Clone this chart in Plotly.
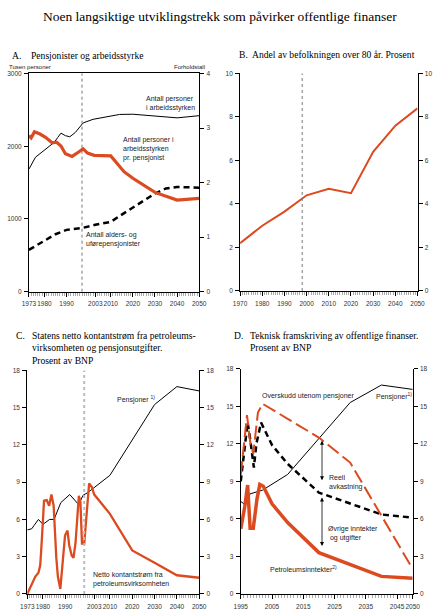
import plotly.graph_objects as go

RED = "#dc4a1f"

# A. Pensjonister og arbeidsstyrke
a_labor_years = [1973, 1975, 1976, 1978.5, 1981.5, 1984.5, 1986, 1987.5, 1989.5, 1991.5, 1994, 1996, 1997.5, 2002, 2009, 2014, 2020, 2030, 2040, 2050]
a_labor = [1685, 1785, 1850, 1910, 1985, 2055, 2120, 2180, 2145, 2130, 2190, 2270, 2320, 2370, 2415, 2437, 2440, 2410, 2390, 2420]
a_ratio_years = [1973, 1974, 1975.5, 1978, 1980.5, 1983.5, 1985.5, 1987.5, 1989.5, 1992.5, 1995.5, 1997.5, 1999.5, 2002.5, 2010, 2016, 2020, 2030, 2040, 2050]
a_ratio = [2.86, 2.82, 2.93, 2.89, 2.83, 2.73, 2.74, 2.67, 2.53, 2.48, 2.56, 2.62, 2.54, 2.50, 2.49, 2.2, 2.08, 1.82, 1.68, 1.71]
a_pens_years = [1973, 1980, 1985, 1990, 1997, 2003, 2010, 2015, 2020, 2025, 2030, 2035, 2040, 2050]
a_pens = [575, 700, 790, 850, 875, 920, 960, 1060, 1160, 1260, 1350, 1420, 1440, 1430]

# B. Andel av befolkningen over 80 år
b_years = [1970, 1980, 1990, 1998, 2000, 2010, 2020, 2030, 2040, 2050]
b_share = [2.2, 3.0, 3.65, 4.25, 4.4, 4.7, 4.5, 6.4, 7.6, 8.4]

# C. Netto kontantstrøm og pensjoner
c_pens_years = [1973, 1975, 1976, 1978, 1980, 1983, 1985, 1986, 1988, 1992, 1996, 1998, 2000, 2010, 2020, 2030, 2040, 2050]
c_pens = [5.15, 5.25, 5.5, 6.0, 5.6, 6.0, 6.0, 6.5, 7.35, 8.0, 7.2, 7.95, 8.15, 9.55, 12.35, 15.25, 16.7, 16.35]
c_oil_years = [1973, 1974.4, 1976.6, 1978, 1978.8, 1979.5, 1980.5, 1981.7, 1982.8, 1983.8, 1984.8, 1986, 1986.7, 1987.8,
               1988.9, 1989.9, 1991, 1991.8, 1992.9, 1993.7, 1994.6, 1996.1, 1996.8, 1997.5, 1998.5, 1999.7, 2000.7,
               2001.9, 2003, 2010, 2020, 2030, 2040, 2050]
c_oil = [0.0, 0.6, 1.4, 1.7, 2.3, 4.3, 7.5, 7.55, 7.1, 8.0, 7.1, 2.9, 1.4, 0.4,
         2.9, 4.7, 5.1, 3.9, 3.1, 2.9, 4.1, 7.9, 7.4, 4.05, 4.05, 7.1, 8.9,
         8.6, 8.0, 6.45, 3.5, 2.5, 1.5, 1.3]

# D. Teknisk framskriving
d_pens_years = [1995, 1996, 1998, 2000, 2002, 2010, 2020, 2030, 2040, 2050]
d_pens = [7.4, 7.2, 8.0, 8.15, 8.3, 9.55, 12.4, 15.3, 16.7, 16.35]
d_oil_years = [1995, 1996.3, 1997.2, 1998, 1999, 2000.2, 2001.1, 2002.2, 2005, 2010, 2020, 2030, 2040, 2050]
d_oil = [5.2, 7.0, 8.7, 5.25, 5.25, 7.6, 8.75, 8.6, 7.2, 5.7, 3.3, 2.35, 1.4, 1.25]
d_surplus_years = [1995, 1997, 1998, 1999, 2000.5, 2002, 2010, 2020, 2030, 2040, 2050]
d_surplus = [9.5, 14.3, 12.2, 11.2, 14.5, 15.2, 14.0, 12.5, 10.5, 6.3, 2.0]
d_excl_years = [1995, 1997.2, 1998, 1999.2, 2000, 2001.5, 2005, 2010, 2020, 2030, 2040, 2050]
d_excl = [9.0, 13.7, 12.4, 10.1, 12.0, 13.7, 11.9, 10.4, 8.1, 7.2, 6.35, 6.1]

a_ticks = [1973, 1980, 1990, 2003, 2010, 2020, 2030, 2040, 2050]
b_ticks = [1970, 1980, 1990, 2000, 2010, 2020, 2030, 2040, 2050]
d_ticks = [1995, 2005, 2015, 2025, 2035, 2045, 2050]

W, H = 440, 613
SANS = "Liberation Sans"
SERIF = "Liberation Serif"
tickfont = dict(family=SANS, size=6.5, color="#333")


def dx(a, b):
    return [a / W, b / W]


def dy(top, bottom):
    return [1 - bottom / H, 1 - top / H]


def xax(dom, anchor, rng, ticks, minor_rng, mirror=False):
    return dict(domain=dom, anchor=anchor, range=rng, tickvals=ticks, showgrid=False, zeroline=False,
                showline=True, linecolor="black", linewidth=1, mirror=mirror, ticks="outside", ticklen=4,
                tickcolor="black", tickfont=tickfont, tickangle=0, ticklabelstandoff=2,
                minor=dict(tickmode="array", tickvals=list(range(*minor_rng)), ticks="outside",
                           ticklen=3, tickcolor="#aaa"))


def yax(dom, anchor, rng, dtick, side="left", overlaying=None):
    d = dict(domain=dom, anchor=anchor, range=rng, dtick=dtick, tick0=0, showgrid=False, zeroline=False,
             showline=True, linecolor="black", linewidth=1, ticks="outside", ticklen=4, tickcolor="black",
             tickfont=tickfont, side=side, ticklabelstandoff=1)
    if overlaying:
        d["overlaying"] = overlaying
    return d


fig = go.Figure()

# A
fig.add_trace(go.Scatter(x=a_labor_years, y=a_labor, mode="lines", line=dict(color="black", width=1), xaxis="x", yaxis="y"))
fig.add_trace(go.Scatter(x=a_pens_years, y=a_pens, mode="lines", line=dict(color="black", width=2.5, dash="6px,4px"), xaxis="x", yaxis="y"))
fig.add_trace(go.Scatter(x=a_ratio_years, y=a_ratio, mode="lines", line=dict(color=RED, width=3.2), xaxis="x", yaxis="y5"))

# B
fig.add_trace(go.Scatter(x=b_years, y=b_share, mode="lines", line=dict(color=RED, width=2), xaxis="x2", yaxis="y2"))
fig.add_trace(go.Scatter(x=b_years, y=b_share, mode="lines", opacity=0, xaxis="x2", yaxis="y6"))

# C
fig.add_trace(go.Scatter(x=c_pens_years, y=c_pens, mode="lines", line=dict(color="black", width=1), xaxis="x3", yaxis="y3"))
fig.add_trace(go.Scatter(x=c_oil_years, y=c_oil, mode="lines", line=dict(color=RED, width=2.3), xaxis="x3", yaxis="y3"))
fig.add_trace(go.Scatter(x=c_pens_years, y=c_pens, mode="lines", opacity=0, xaxis="x3", yaxis="y7"))

# D
fig.add_trace(go.Scatter(x=d_pens_years, y=d_pens, mode="lines", line=dict(color="black", width=1), xaxis="x4", yaxis="y4"))
fig.add_trace(go.Scatter(x=d_excl_years, y=d_excl, mode="lines", line=dict(color="black", width=2.5, dash="6px,4px"), xaxis="x4", yaxis="y4"))
fig.add_trace(go.Scatter(x=d_surplus_years, y=d_surplus, mode="lines", line=dict(color=RED, width=2, dash="14px,5px"), xaxis="x4", yaxis="y4"))
fig.add_trace(go.Scatter(x=d_oil_years, y=d_oil, mode="lines", line=dict(color=RED, width=3.5), xaxis="x4", yaxis="y4"))
fig.add_trace(go.Scatter(x=d_pens_years, y=d_pens, mode="lines", opacity=0, xaxis="x4", yaxis="y8"))

domA = (dx(22.7, 199), dy(70.3, 291))
domB = (dx(241.3, 425), dy(70.3, 290.3))
domC = (dx(21, 199), dy(370.7, 596.7))
domD = (dx(242, 420), dy(369, 596.7))

fig.update_layout(
    width=W, height=H, margin=dict(l=0, r=0, t=0, b=0), showlegend=False,
    plot_bgcolor="white", paper_bgcolor="white",
    xaxis=xax(domA[0], "y", [1973, 2050], a_ticks, (1973, 2051), mirror=True),
    yaxis=yax(domA[1], "x", [0, 3000], 1000),
    yaxis5=yax(domA[1], "x", [0, 4], 1, side="right", overlaying="y"),
    xaxis2=xax(domB[0], "y2", [1970, 2050], b_ticks, (1970, 2051)),
    yaxis2=yax(domB[1], "x2", [0, 10], 2),
    yaxis6=yax(domB[1], "x2", [0, 10], 2, side="right", overlaying="y2"),
    xaxis3=xax(domC[0], "y3", [1973, 2050], a_ticks, (1973, 2051)),
    yaxis3=yax(domC[1], "x3", [0, 18], 3),
    yaxis7=yax(domC[1], "x3", [0, 18], 3, side="right", overlaying="y3"),
    xaxis4=xax(domD[0], "y4", [1995, 2050], d_ticks, (1995, 2051)),
    yaxis4=yax(domD[1], "x4", [0, 18], 3),
    yaxis8=yax(domD[1], "x4", [0, 18], 3, side="right", overlaying="y4"),
)

# vertical dotted separators
fig.add_shape(type="line", xref="x", yref="y domain", x0=1997, x1=1997, y0=0, y1=1, line=dict(color="#777", width=1, dash="dot"))
fig.add_shape(type="line", xref="x2", yref="y2 domain", x0=1998, x1=1998, y0=0, y1=1, line=dict(color="#777", width=1, dash="dot"))
fig.add_shape(type="line", xref="x3", yref="y3 domain", x0=1998.5, x1=1998.5, y0=0, y1=1, line=dict(color="#bbb", width=2, dash="dot"))


def note(x, y, text, size=7, family=SANS, align="left", xanchor="left", color="#222"):
    fig.add_annotation(x=x / W, y=1 - y / H, xref="paper", yref="paper", text=text, showarrow=False,
                       xanchor=xanchor, yanchor="middle", align=align, font=dict(family=family, size=size, color=color))


TS = 9.6
note(220, 13, "Noen langsiktige utviklingstrekk som påvirker offentlige finanser", size=13.5, family=SERIF, xanchor="center", color="black")

note(3, 52, "A.", size=TS, family=SERIF, color="black")
note(23, 52, "Pensjonister og arbeidsstyrke", size=TS, family=SERIF, color="black")
note(0, 64, "Tusen personer", size=6)
note(207, 64, "Forholdstall", size=6, xanchor="right", align="right")
note(142, 101, "Antall personer<br>i arbeidsstyrken")
note(118, 147, "Antall personer i<br>arbeidsstyrken<br>pr. pensjonist")
note(80, 238, "Antall alders- og<br>uførepensjonister")

note(331, 51, "B.  Andel av befolkningen over 80 år. Prosent", size=TS, family=SERIF, xanchor="center", color="black")

note(7, 335, "C.", size=TS, family=SERIF, color="black")
note(24, 348, "Statens netto kontantstrøm fra petroleums-<br>virksomheten og pensjonsutgifter.<br>Prosent av BNP",
     size=TS, family=SERIF, color="black")
note(112, 400, "Pensjoner <sup>1)</sup>")
note(87, 582, "Netto kontantstrøm fra<br>petroleumsvirksomheten")

note(233, 335, "D.", size=TS, family=SERIF, color="black")
note(250, 341, "Teknisk framskriving av offentlige finanser.<br>Prosent av BNP", size=TS, family=SERIF, color="black")
note(262, 397, "Overskudd utenom pensjoner")
note(380, 397, "Pensjoner<sup>1)</sup>")
note(331, 484, "Reell<br>avkastning")
note(330, 536, "Øvrige inntekter<br> og utgifter")
note(270, 572, "Petroleumsinntekter<sup>2)</sup>")

# double arrows in D
for y_top, y_bot in [(12.25, 8.96), (7.7, 3.7)]:
    fig.add_annotation(x=2021, y=y_top, ax=2021, ay=y_bot, xref="x4", yref="y4", axref="x4", ayref="y4",
                       text="", showarrow=True, arrowhead=2, startarrowhead=2, arrowside="end+start",
                       arrowsize=1, arrowwidth=0.8, arrowcolor="black")

# page body has a default 8px margin; remove it so the figure sits at 0,0
fig.write_html("out.html", config={"displayModeBar": False},
               post_script="document.body.style.margin='0';document.body.style.overflow='hidden';")
